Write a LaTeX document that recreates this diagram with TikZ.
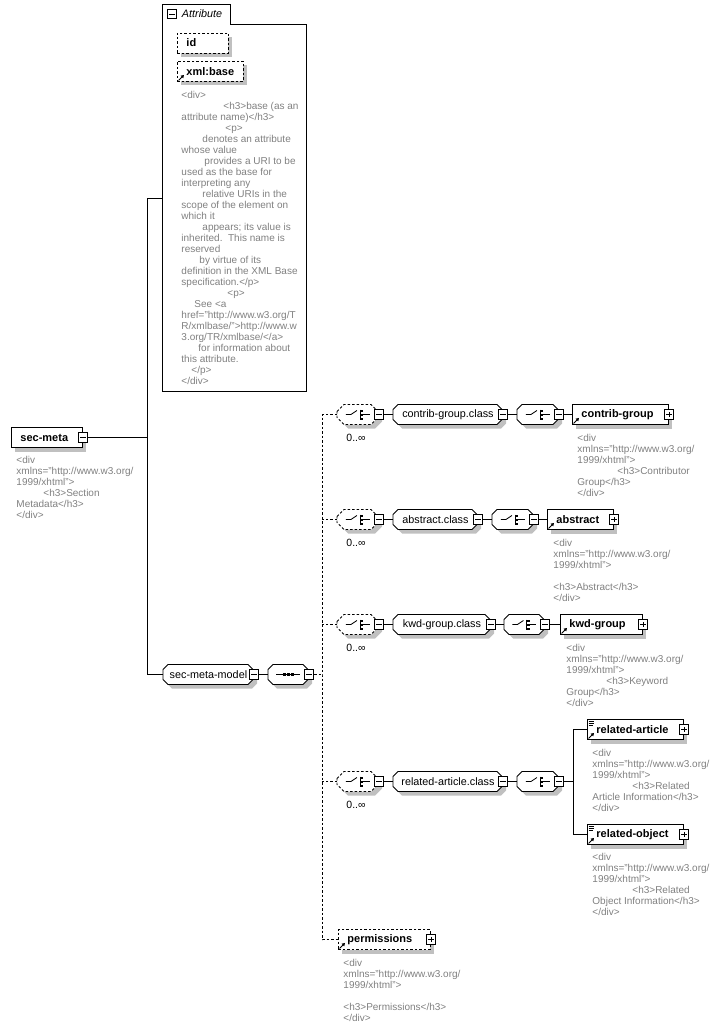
\documentclass[tikz,border=0pt]{standalone}
\usepackage{fontspec}
\setmainfont{Liberation Sans}
\usetikzlibrary{shadows,arrows.meta}
\definecolor{docgray}{RGB}{128,128,128}
\definecolor{shadowgray}{RGB}{192,192,192}
\newcommand\docfont{\fontsize{10}{11}\selectfont}
% octagon box: [draw opts]{name}{x}{y}{width}{chamfer}{text}
\newcommand\grpnode[7][]{%
  \fill[shadowgray, shift={(#3+4,#4+4)}] (0,#6-10) -- (#6,-10) -- (#5-#6,-10) -- (#5,#6-10) -- (#5,10-#6) -- (#5-#6,10) -- (#6,10) -- (0,10-#6) -- cycle;
  \draw[fill=white, shift={(#3,#4)}, #1] (0,#6-10) -- (#6,-10) -- (#5-#6,-10) -- (#5,#6-10) -- (#5,10-#6) -- (#5-#6,10) -- (#6,10) -- (0,10-#6) -- cycle;
  \node[grp=#5pt] (#2) at (#3,#4) {#7};}
\newcommand\choiceicon[1]{%
  \draw[icon] ([xshift=-12pt]#1.center) -- ++(5pt,0pt) -- ++(6pt,4pt);
  \draw[icon] ([xshift=2pt,yshift=5pt]#1.center) -- ++(0pt,-10pt);
  \foreach \dy in {3,-1,-5} \fill ([xshift=2.5pt,yshift=\dy pt]#1.center) rectangle ++(3pt,2pt);
  \draw[icon] ([xshift=5.5pt]#1.center) -- ++(6.5pt,0pt);}
\newcommand\seqicon[1]{%
  \draw[icon] ([xshift=-12pt]#1.center) -- ([xshift=12pt]#1.center);
  \foreach \dx in {-5,-1,3} \fill ([xshift=\dx pt,yshift=-1.2pt]#1.center) rectangle ++(2.5pt,2.5pt);}
\newcommand\refarrow[1]{%
  \draw[icon,-{Triangle[length=3pt,width=3.5pt]}] ([xshift=1.5pt,yshift=1.5pt]#1.south west) -- ++(5.5pt,5.5pt);}
\newcommand\mixicon[1]{%
  \foreach \dy/\len in {2/5.5,4/5.5,6/4} \draw[line width=0.7pt] ([xshift=1.5pt,yshift=-\dy pt]#1.north west) -- ++(\len pt,0pt);}
\begin{document}
\begin{tikzpicture}[x=1pt, y=-1pt, line width=0.9pt,
  dropsh/.style={drop shadow={shadow xshift=4pt, shadow yshift=-4pt, fill=shadowgray, opacity=1}},
  elem/.style={draw, fill=white, dropsh, anchor=west, minimum height=20pt, inner xsep=9pt, inner ysep=0pt, text width=#1, align=left, font=\fontsize{11}{13}\selectfont\bfseries},
  optelem/.style={elem=#1, dash pattern=on 2.5pt off 2pt},
  grp/.style={anchor=west, minimum width=#1, minimum height=20pt, inner sep=0pt, font=\fontsize{10.8}{13}\selectfont},
  optdash/.style={dash pattern=on 2.5pt off 2pt},
  minusbox/.style={draw, fill=white, minimum size=9.5pt, inner sep=0pt, line width=0.8pt,
    path picture={\draw[line width=0.8pt] ([xshift=2pt]path picture bounding box.west) -- ([xshift=-2pt]path picture bounding box.east);}},
  plusbox/.style={draw, fill=white, minimum size=9.5pt, inner sep=0pt, line width=0.8pt,
    path picture={\draw[line width=0.8pt] ([xshift=2pt]path picture bounding box.west) -- ([xshift=-2pt]path picture bounding box.east);
      \draw[line width=0.8pt] ([yshift=-2pt]path picture bounding box.north) -- ([yshift=2pt]path picture bounding box.south);}},
  doc/.style={anchor=north west, inner sep=0pt, align=left, text=docgray, font=\docfont},
  occ/.style={font=\fontsize{10.5}{12}\selectfont, inner sep=0pt},
  icon/.style={line width=0.8pt},
  optline/.style={dash pattern=on 2.5pt off 2pt}]
\useasboundingbox (0,0) rectangle (720,1027);

% root element
\node[elem=53pt] (smeta) at (11,437.5) {sec-meta};
\node[minusbox] (smeta-pm) at (smeta.east) {};
\node[doc] (smeta-doc) at (16,456) {<div\\xmlns="http://www.w3.org/\\1999/xhtml">\\\hspace*{27pt}<h3>Section\\Metadata</h3>\\</div>};

% attributes
\node[minimum width=144pt, minimum height=367pt, anchor=north west, inner sep=0pt] (attr) at (162,24) {};
\node[minimum width=68pt, minimum height=19pt, anchor=south west, inner sep=0pt] (tab) at (attr.north west) {};
\draw (attr.south west) -- (tab.north west) -- (tab.north east) -- (tab.south east) -- (attr.north east) -- (attr.south east) -- cycle;
\node[minusbox] (tab-pm) at ([xshift=10pt]tab.west) {};
\node[anchor=west, inner sep=0pt, font=\fontsize{10.8}{13}\selectfont\itshape] (tab-lbl) at ([xshift=19.5pt]tab.west) {Attribute};
\node[optelem=33pt] (id) at (177,43) {id};
\node[optelem=48pt] (xbase) at (177,71.5) {xml:base};
\refarrow{xbase}
\node[doc] (xbase-doc) at (181,91) {<div>\\
\hspace*{42pt}<h3>base (as an\\
attribute name)</h3>\\
\hspace*{44pt}<p>\\
\hspace*{21pt}denotes an attribute\\
whose value\\
\hspace*{23pt}provides a URI to be\\
used as the base for\\
interpreting any\\
\hspace*{21pt}relative URIs in the\\
scope of the element on\\
which it\\
\hspace*{21pt}appears; its value is\\
inherited.\ \ This name is\\
reserved\\
\hspace*{18pt}by virtue of its\\
definition in the XML Base\\
specification.</p>\\
\hspace*{46pt}<p>\\
\hspace*{13pt}See <a\\
href="http://www.w3.org/T\\
R/xmlbase/">http://www.w\\
3.org/TR/xmlbase/</a>\\
\hspace*{17pt}for information about\\
this attribute.\\
\hspace*{10pt}</p>\\
</div>};

% model group and sequence
\grpnode{smodel}{163}{674.5}{90}{5}{sec-meta-model}
\node[minusbox] (smodel-pm) at (smodel.east) {};
\grpnode{seq}{268}{674.5}{40}{5}{}
\node[minusbox] (seq-pm) at (seq.east) {};
\seqicon{seq}

% contrib-group
\grpnode[optdash]{och1}{337}{414.5}{41}{7}{}
\node[minusbox] (och1-pm) at (och1.east) {};
\choiceicon{och1}
\node[occ] (occ1) at (356,438) {0..∞};
\grpnode{cls1}{393}{414.5}{109}{5}{contrib-group.class}
\node[minusbox] (cls1-pm) at (cls1.east) {};
\grpnode{ch1}{517}{414.5}{41}{5}{}
\node[minusbox] (ch1-pm) at (ch1.east) {};
\choiceicon{ch1}
\node[elem=78pt] (cgrp) at (572,414.5) {contrib-group};
\node[plusbox] (cgrp-pm) at (cgrp.east) {};
\refarrow{cgrp}
\node[doc] (cgrp-doc) at (577,434) {<div\\xmlns="http://www.w3.org/\\1999/xhtml">\\\hspace*{40pt}<h3>Contributor\\Group</h3>\\</div>};

% abstract
\grpnode[optdash]{och2}{337}{519.5}{41}{7}{}
\node[minusbox] (och2-pm) at (och2.east) {};
\choiceicon{och2}
\node[occ] (occ2) at (356,543) {0..∞};
\grpnode{cls2}{393}{519.5}{84}{5}{abstract.class}
\node[minusbox] (cls2-pm) at (cls2.east) {};
\grpnode{ch2}{492}{519.5}{41}{5}{}
\node[minusbox] (ch2-pm) at (ch2.east) {};
\choiceicon{ch2}
\node[elem=48pt] (abs) at (547,519.5) {abstract};
\node[plusbox] (abs-pm) at (abs.east) {};
\refarrow{abs}
\node[doc] (abs-doc) at (553,539) {<div\\xmlns="http://www.w3.org/\\1999/xhtml">\\\mbox{}\\<h3>Abstract</h3>\\</div>};

% kwd-group
\grpnode[optdash]{och3}{337}{624.5}{41}{7}{}
\node[minusbox] (och3-pm) at (och3.east) {};
\choiceicon{och3}
\node[occ] (occ3) at (356,648) {0..∞};
\grpnode{cls3}{393}{624.5}{97}{5}{kwd-group.class}
\node[minusbox] (cls3-pm) at (cls3.east) {};
\grpnode{ch3}{504}{624.5}{40}{5}{}
\node[minusbox] (ch3-pm) at (ch3.east) {};
\choiceicon{ch3}
\node[elem=64pt] (kwd) at (560,624.5) {kwd-group};
\node[plusbox] (kwd-pm) at (kwd.east) {};
\refarrow{kwd}
\node[doc] (kwd-doc) at (566,644) {<div\\xmlns="http://www.w3.org/\\1999/xhtml">\\\hspace*{40pt}<h3>Keyword\\Group</h3>\\</div>};

% related-article / related-object
\grpnode[optdash]{och4}{337}{781.5}{41}{7}{}
\node[minusbox] (och4-pm) at (och4.east) {};
\choiceicon{och4}
\node[occ] (occ4) at (356,805) {0..∞};
\grpnode{cls4}{393}{781.5}{109}{5}{related-article.class}
\node[minusbox] (cls4-pm) at (cls4.east) {};
\grpnode{ch4}{517}{781.5}{41}{5}{}
\node[minusbox] (ch4-pm) at (ch4.east) {};
\choiceicon{ch4}
\node[elem=78pt] (rart) at (587,729.5) {related-article};
\node[plusbox] (rart-pm) at (rart.east) {};
\refarrow{rart}
\mixicon{rart}
\node[doc] (rart-doc) at (592,749) {<div\\xmlns="http://www.w3.org/\\1999/xhtml">\\\hspace*{40pt}<h3>Related\\Article Information</h3>\\</div>};
\node[elem=78pt] (robj) at (587,834.5) {related-object};
\node[plusbox] (robj-pm) at (robj.east) {};
\refarrow{robj}
\mixicon{robj}
\node[doc] (robj-doc) at (592,853) {<div\\xmlns="http://www.w3.org/\\1999/xhtml">\\\hspace*{40pt}<h3>Related\\Object Information</h3>\\</div>};

% permissions
\node[optelem=74pt] (perm) at (338,939.5) {permissions};
\node[plusbox] (perm-pm) at (perm.east) {};
\refarrow{perm}
\node[doc] (perm-doc) at (343,959) {<div\\xmlns="http://www.w3.org/\\1999/xhtml">\\\mbox{}\\<h3>Permissions</h3>\\</div>};

% connectors
\coordinate (join) at (147,198);
\coordinate (optx) at (322,674.5);
\draw (join) -- (join -| attr.west);
\draw (join) |- (smodel.west);
\draw (smeta-pm.east) -- (smeta-pm.east -| join);
\draw (smodel-pm.east) -- (seq.west);
\draw[optline] (seq-pm.east) -- (optx);
\draw[optline] (och1.west) -| (optx) |- (perm.west);
\draw[optline] (och2.west) -- (och2.west -| optx);
\draw[optline] (och3.west) -- (och3.west -| optx);
\draw[optline] (och4.west) -- (och4.west -| optx);
\draw (och1-pm.east) -- (cls1.west);
\draw (cls1-pm.east) -- (ch1.west);
\draw (ch1-pm.east) -- (cgrp.west);
\draw (och2-pm.east) -- (cls2.west);
\draw (cls2-pm.east) -- (ch2.west);
\draw (ch2-pm.east) -- (abs.west);
\draw (och3-pm.east) -- (cls3.west);
\draw (cls3-pm.east) -- (ch3.west);
\draw (ch3-pm.east) -- (kwd.west);
\draw (och4-pm.east) -- (cls4.west);
\draw (cls4-pm.east) -- (ch4.west);
\draw (ch4-pm.east) -- ++(9.5pt,0pt) coordinate (rjoin);
\draw (rart.west) -| (rjoin) |- (robj.west);
\end{tikzpicture}
\end{document}
